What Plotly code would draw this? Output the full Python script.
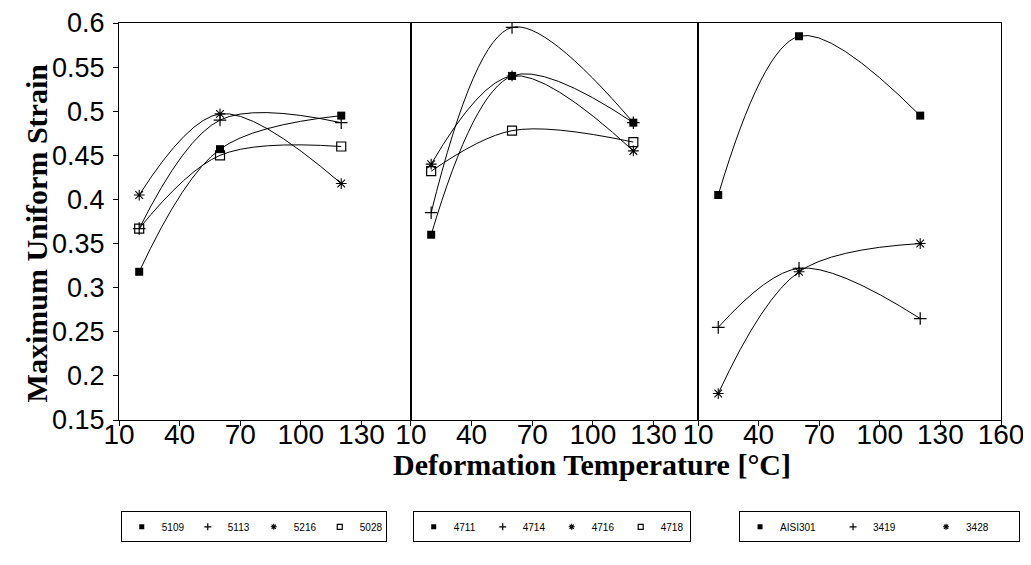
import plotly.graph_objects as go

temps = [20, 60, 120]

# Panel 1
p1_names = ["5109", "5113", "5216", "5028"]
p1_5109 = [0.318, 0.457, 0.495]
p1_5113 = [0.367, 0.490, 0.487]
p1_5216 = [0.405, 0.497, 0.418]
p1_5028 = [0.367, 0.450, 0.460]

# Panel 2
p2_names = ["4711", "4714", "4716", "4718"]
p2_4711 = [0.360, 0.540, 0.487]
p2_4714 = [0.385, 0.595, 0.487]
p2_4716 = [0.440, 0.540, 0.455]
p2_4718 = [0.432, 0.478, 0.465]

# Panel 3
p3_names = ["AISI301", "3419", "3428"]
p3_aisi301 = [0.405, 0.585, 0.495]
p3_3419 = [0.255, 0.322, 0.265]
p3_3428 = [0.180, 0.318, 0.350]

x_ticks_12 = [10, 40, 70, 100, 130]
x_ticks_3 = [10, 40, 70, 100, 130, 160]
y_ticks = [0.15, 0.2, 0.25, 0.3, 0.35, 0.4, 0.45, 0.5, 0.55, 0.6]
y_ticktext = ["0.15", "0.2", "0.25", "0.3", "0.35", "0.4", "0.45", "0.5", "0.55", "0.6"]

sym_filled = dict(symbol="square", size=8, color="black")
sym_plus = dict(symbol="cross-thin-open", size=9, color="black", line=dict(width=1.2, color="black"))
sym_star = dict(symbol="asterisk-open", size=9, color="black", line=dict(width=1.1, color="black"))
sym_open = dict(symbol="square-open", size=9, color="black", line=dict(width=1.2, color="black"))

fig = go.Figure()

panels = [
    ("x", "y", "legend", p1_names, [p1_5109, p1_5113, p1_5216, p1_5028], [sym_filled, sym_plus, sym_star, sym_open]),
    ("x2", "y2", "legend2", p2_names, [p2_4711, p2_4714, p2_4716, p2_4718], [sym_filled, sym_plus, sym_star, sym_open]),
    ("x3", "y3", "legend3", p3_names, [p3_aisi301, p3_3419, p3_3428], [sym_filled, sym_plus, sym_star]),
]

for xa, ya, lg, names, series, syms in panels:
    for name, vals, sym in zip(names, series, syms):
        fig.add_trace(go.Scatter(
            x=temps, y=vals, mode="lines+markers", name=name,
            line=dict(color="black", width=1, shape="spline", smoothing=1.0),
            marker=sym, xaxis=xa, yaxis=ya, showlegend=False,
        ))
    for name, sym in zip(names, syms):
        leg_sym = dict(sym)
        leg_sym["size"] = 5
        fig.add_trace(go.Scatter(
            x=[None], y=[None], mode="markers", name=name, marker=leg_sym,
            xaxis=xa, yaxis=ya, legend=lg, showlegend=True,
        ))

tickfont_x = dict(family="Liberation Sans Narrow, Arial Narrow, Liberation Sans, Arial", size=28, color="black")
tickfont_y = dict(family="Liberation Sans, Arial", size=27, color="black")

common_x = dict(showline=True, linecolor="black", linewidth=1, mirror=True, ticks="outside",
                ticklen=5, tickcolor="black", showgrid=False, zeroline=False, tickfont=tickfont_x,
                automargin=False, ticklabelstandoff=-16)
common_y = dict(showline=True, linecolor="black", linewidth=1, mirror=True, showgrid=False,
                zeroline=False, range=[0.15, 0.6], automargin=False)

leg_common = dict(orientation="h", bordercolor="black", borderwidth=1, bgcolor="white",
                  font=dict(family="Liberation Sans, Arial", size=10, color="black"),
                  xanchor="left", yanchor="top", itemwidth=30, tracegroupgap=0)

fig.update_layout(
    width=1031, height=565,
    paper_bgcolor="white", plot_bgcolor="white",
    margin=dict(l=111, r=38, t=15, b=153, autoexpand=False),
    xaxis=dict(domain=[0, 0.331], range=[10, 154.5], tickvals=x_ticks_12, **common_x),
    xaxis2=dict(domain=[0.331, 0.6565], range=[10, 152], tickvals=x_ticks_12, anchor="y2", **common_x),
    xaxis3=dict(domain=[0.6565, 1.0], range=[10, 160], tickvals=x_ticks_3, anchor="y3", **common_x),
    yaxis=dict(tickvals=y_ticks, ticktext=y_ticktext, ticks="outside", ticklen=5, tickcolor="black",
               tickfont=tickfont_y, anchor="x", ticklabelstandoff=3, ticklabeloverflow="allow",
               **common_y),
    yaxis2=dict(anchor="x2", showticklabels=False, ticks="", **common_y),
    yaxis3=dict(anchor="x3", showticklabels=False, ticks="", **common_y),
    legend=dict(x=0.002, y=-0.23, entrywidth=21, **leg_common),
    legend2=dict(x=0.333, y=-0.23, entrywidth=24, **leg_common),
    legend3=dict(x=0.703, y=-0.23, entrywidth=48, **leg_common),
    annotations=[
        dict(text="<b>Deformation Temperature [°C]</b>", xref="paper", yref="paper",
             x=0.536, y=-0.112, xanchor="center", yanchor="middle", showarrow=False,
             font=dict(family="Liberation Serif, Times New Roman", size=30, color="black")),
        dict(text="<b>Maximum Uniform Strain</b>", xref="paper", yref="paper",
             x=0, y=0.47, xshift=-83, xanchor="center", yanchor="middle", textangle=-90,
             showarrow=False,
             font=dict(family="Liberation Serif, Times New Roman", size=30, color="black")),
    ],
)

fig.write_html("out.html")
